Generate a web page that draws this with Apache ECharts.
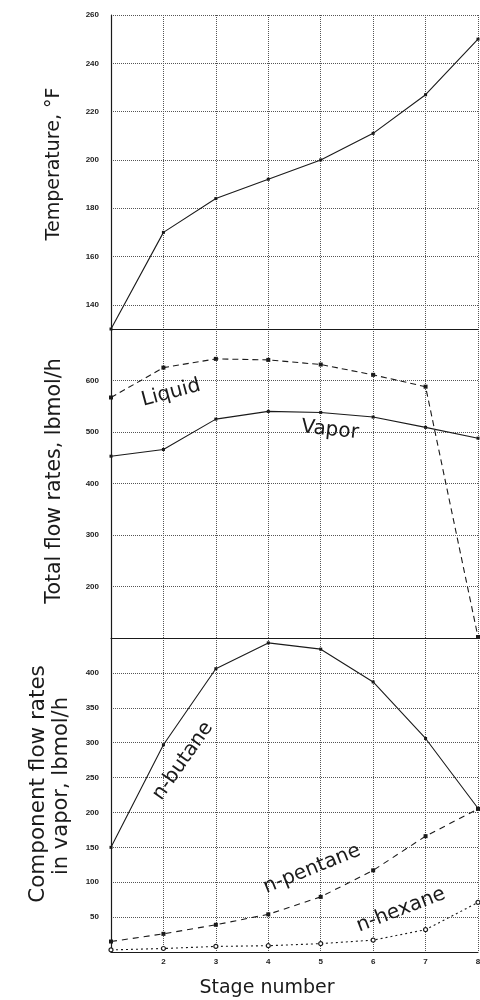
<!DOCTYPE html>
<html><head><meta charset="utf-8">
<script src="https://cdn.jsdelivr.net/npm/echarts@6/dist/echarts.min.js"></script>
<style>html,body{margin:0;padding:0;background:#fff}#c{width:480px;height:1000px}</style>
</head><body><div id="c"></div>
<script>
const stages = [1, 2, 3, 4, 5, 6, 7, 8];
const stageTicks = [2, 3, 4, 5, 6, 7, 8];
const temperature = [130, 170, 184, 192, 200, 211, 227, 250];
const liquid = [567, 625, 642, 640, 631, 611, 588, 102];
const vapor = [453, 466, 525, 540, 538, 529, 509, 488];
const butane = [150, 297, 406, 443, 434, 387, 306, 206];
const pentane = [15, 26, 39, 54, 79, 117, 166, 205];
const hexane = [3, 5, 8, 9, 12, 17, 32, 71];
const tempTicks = [140, 160, 180, 200, 220, 240, 260];
const totalTicks = [200, 300, 400, 500, 600];
const compTicks = [50, 100, 150, 200, 250, 300, 350, 400];

const pairs = v => stages.map((s, i) => [s, v[i]]);
const INK = '#1a1a1a';
const gridLine = { show: true, lineStyle: { color: '#555', type: 'dotted', width: 1 } };
const lblFont = { fontSize: 8, fontWeight: 'bold', color: '#222', fontFamily: 'Liberation Sans Narrow, Liberation Sans, sans-serif' };

function xAx(gi, showLabels) {
  return {
    type: 'value', gridIndex: gi, min: 1, max: 8, interval: 1,
    axisLine: { show: true, onZero: false, lineStyle: { color: INK, width: 1.2 } },
    axisTick: { show: false },
    splitLine: gridLine,
    axisLabel: showLabels ? Object.assign({ show: true, margin: 6, formatter: v => stageTicks.includes(v) ? String(v) : '' }, lblFont) : { show: false }
  };
}
function yAx(gi, min, max, interval, ticks) {
  return {
    type: 'value', gridIndex: gi, min: min, max: max, interval: interval,
    axisLine: { show: true, onZero: false, lineStyle: { color: INK, width: 1.2 } },
    axisTick: { show: false },
    splitLine: gridLine,
    axisLabel: Object.assign({ margin: 12, formatter: v => ticks.includes(v) ? String(v) : '' }, lblFont)
  };
}
function line(name, xi, data, type, symbol, size) {
  const open = symbol === 'open';
  return {
    name: name, type: 'line', xAxisIndex: xi, yAxisIndex: xi, data: pairs(data),
    symbol: open ? 'circle' : symbol, symbolSize: size, showSymbol: true,
    lineStyle: { color: INK, width: 1.1, type: type },
    itemStyle: open ? { color: '#fff', borderColor: INK, borderWidth: 1.2 } : { color: INK },
    emphasis: { disabled: true }, animation: false, z: 5
  };
}

const chart = echarts.init(document.getElementById('c'), null, { renderer: 'canvas' });
const F = 'DejaVu Sans, sans-serif';
function txt(text, x, y, deg, size) {
  return { type: 'text', x: x, y: y, rotation: deg * Math.PI / 180, z: 10,
    style: { text: text, fontSize: size, fontFamily: F, fill: INK, textAlign: 'center', textVerticalAlign: 'middle' } };
}
const G = { left: 111, right: 2, outerBoundsMode: 'none', containLabel: false };
chart.setOption({
  animation: false,
  backgroundColor: '#fff',
  grid: [
    Object.assign({ top: 15, height: 314 }, G),
    Object.assign({ top: 329, height: 309 }, G),
    Object.assign({ top: 638, height: 314 }, G)
  ],
  xAxis: [xAx(0, false), xAx(1, false), xAx(2, true)],
  yAxis: [
    (function () {
      const a = yAx(0, 130, 260, 10, tempTicks);
      a.axisTick = { show: false, customValues: tempTicks };
      a.axisLabel.customValues = tempTicks;
      return a;
    })(),
    yAx(1, 100, 700, 100, totalTicks),
    yAx(2, 0, 450, 50, compTicks)
  ],
  series: [
    line('Temperature', 0, temperature, 'solid', 'rect', 3),
    line('Liquid', 1, liquid, [6, 4], 'rect', 4),
    line('Vapor', 1, vapor, 'solid', 'rect', 3),
    line('n-butane', 2, butane, 'solid', 'rect', 3),
    line('n-pentane', 2, pentane, [6, 5], 'rect', 4),
    line('n-hexane', 2, hexane, [2, 3], 'open', 4)
  ],
  graphic: [
    txt('Temperature, °F', 54, 164, 90, 19),
    txt('Total flow rates, lbmol/h', 55, 481, 90, 20.5),
    txt('Component flow rates', 38, 784, 90, 21.5),
    txt('in vapor, lbmol/h', 62, 786, 90, 21),
    txt('Stage number', 267, 988, 0, 19),
    txt('Liquid', 171, 393, 15, 20),
    txt('Vapor', 330, 430, -6, 20),
    txt('n-butane', 183, 761, 55, 20),
    txt('n-pentane', 312, 869, 22, 20),
    txt('n-hexane', 401, 910, 21, 20)
  ]
});
</script></body></html>
